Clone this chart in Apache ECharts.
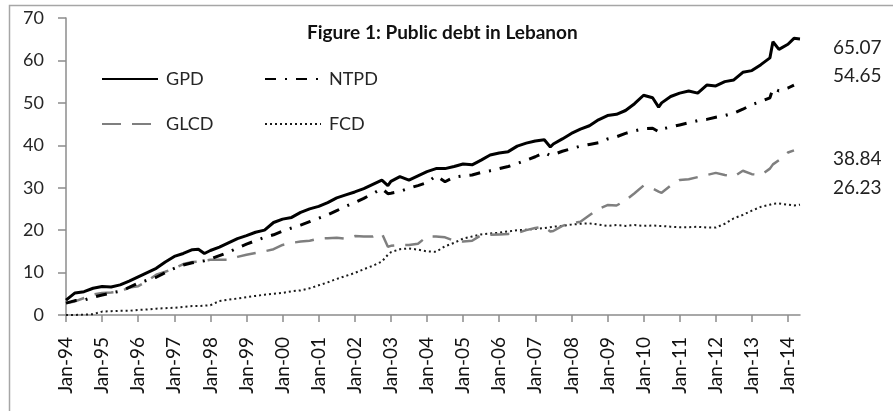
<!DOCTYPE html>
<html lang="en">
<head>
    <meta charset="UTF-8">
    <title>Public debt in Lebanon</title>
    <script src="https://cdn.jsdelivr.net/npm/echarts@6.0.0/dist/echarts.min.js"></script>
    <style>
        html, body { margin: 0; padding: 0; background: #fff; }
    </style>
</head>
<body>
    <div id="main" style="width: 893px;height:411px;"></div>
    <script type="text/javascript">
        // months since Jan-94 at which the lines were read
        var months = [0,3,6,9,12,15,18,21,24,27,30,33,36,39,42,44,46,48,51,54,57,60,63,66,69,72,75,78,81,84,87,90,93,96,99,102,105,107,
            108,111,114,117,120,123,126,129,132,135,138,141,144,147,150,153,156,159,161,162,165,168,171,174,177,180,183,186,189,192,195,197,
            198,201,204,207,210,213,216,219,222,225,228,231,234,235,237,240,242,244];

        var gpd = [3.5,5.2,5.5,6.3,6.7,6.6,7.1,8.0,9.0,10.0,11.0,12.5,13.8,14.5,15.4,15.5,14.5,15.2,16.0,17.0,18.0,18.7,19.5,20.0,21.8,22.6,23.0,24.2,25.0,25.6,26.5,27.6,28.3,29.0,29.8,30.8,31.8,30.5,
            31.5,32.6,31.8,32.8,33.8,34.5,34.5,35.0,35.6,35.4,36.5,37.7,38.2,38.5,39.8,40.5,41.0,41.3,39.6,40.3,41.5,42.8,43.8,44.6,46.0,47.0,47.3,48.2,49.8,51.8,51.2,49.0,
            50.0,51.5,52.3,52.8,52.3,54.2,54.0,55.0,55.4,57.2,57.6,59.0,60.6,64.4,62.6,63.8,65.2,65.07];

        var ntpd = [2.8,3.4,3.5,4.2,4.7,5.2,5.6,6.5,7.5,8.2,8.9,10.0,11.0,11.8,12.3,12.6,12.8,13.2,14.0,14.8,15.8,16.7,17.5,18.3,18.9,19.8,20.5,21.2,22.0,22.8,23.6,24.6,25.6,26.5,27.5,28.6,29.8,28.6,
            28.7,29.1,29.9,30.5,31.2,32.8,31.4,32.5,32.8,33.0,33.6,34.0,34.5,35.0,35.7,36.5,37.3,38.3,37.6,37.8,38.6,39.2,39.8,40.2,40.6,41.5,42.0,42.8,43.4,43.9,44.0,43.2,
            43.8,44.3,44.8,45.3,45.8,46.1,46.6,47.0,47.6,48.5,49.6,50.3,51.2,53.4,52.8,53.5,54.2,null];

        var glcd = [2.8,3.2,4.0,4.8,5.2,5.3,5.5,6.5,6.8,8.0,9.5,10.2,11.0,12.0,12.5,12.6,12.8,13.0,13.0,13.0,13.7,14.2,14.6,15.0,15.5,16.5,17.0,17.3,17.5,18.0,18.1,18.2,18.0,18.6,18.5,18.5,19.2,16.1,
            16.3,16.5,16.5,16.8,18.5,18.5,18.3,17.5,17.3,17.5,18.8,18.9,19.0,19.1,19.3,20.0,20.5,20.8,19.7,19.8,21.0,21.6,22.0,23.5,25.0,25.9,25.8,27.0,28.7,30.5,29.8,29.1,
            28.8,30.5,31.8,32.0,32.5,33.0,33.5,33.0,32.6,34.0,33.2,33.0,34.5,35.5,36.5,38.3,38.8,null];

        var fcd = [0.0,0.0,0.1,0.2,0.8,0.9,1.0,1.0,1.2,1.3,1.5,1.6,1.7,1.9,2.1,2.1,2.2,2.3,3.3,3.6,3.9,4.2,4.5,4.8,5.0,5.2,5.6,5.8,6.3,7.0,7.7,8.5,9.2,9.9,10.8,11.6,12.6,14.2,
            14.8,15.5,15.7,15.4,15.0,14.9,16.2,17.0,18.0,18.5,19.0,19.2,19.4,19.7,20.0,20.1,20.3,20.5,20.7,20.8,21.0,21.3,21.5,21.6,21.3,21.0,21.2,21.0,21.2,21.0,21.1,21.0,
            21.0,20.8,20.7,20.7,20.8,20.6,20.6,21.5,22.8,23.6,24.6,25.5,26.0,26.2,26.3,26.0,25.8,26.0];

        var tickLabels = ['Jan-94','Jan-95','Jan-96','Jan-97','Jan-98','Jan-99','Jan-00','Jan-01','Jan-02','Jan-03','Jan-04',
            'Jan-05','Jan-06','Jan-07','Jan-08','Jan-09','Jan-10','Jan-11','Jan-12','Jan-13','Jan-14'];
        var tickMonths = tickLabels.map(function (t, i) { return i * 12; });

        var endLabels = ['65.07', '54.65', '38.84', '26.23'];

        function pairs(vals) {
            var out = [];
            for (var i = 0; i < months.length; i++) {
                if (vals[i] != null) out.push([months[i], vals[i]]);
            }
            return out;
        }

        var font = 'Lato, "Open Sans", sans-serif';
        var myChart = echarts.init(document.getElementById('main'));

        var legendBase = {
            itemWidth: 56,
            itemHeight: 14,
            padding: 0,
            selectedMode: false,
            itemStyle: { color: 'rgba(0,0,0,0)', borderWidth: 0, opacity: 0 },
            textStyle: { fontFamily: font, fontSize: 18, color: '#262626', padding: [0, 0, 0, 3] }
        };

        var option = {
            backgroundColor: '#fff',
            animation: false,
            title: {
                text: 'Figure 1: Public debt in Lebanon',
                left: 302,
                top: 18,
                textStyle: { fontFamily: font, fontSize: 19, fontWeight: 'bold', color: '#111' }
            },
            legend: [
                Object.assign({ data: ['GPD'], left: 101, top: 70 }, legendBase),
                Object.assign({ data: ['NTPD'], left: 264, top: 70 }, legendBase),
                Object.assign({ data: ['GLCD'], left: 101, top: 115 }, legendBase),
                Object.assign({ data: ['FCD'], left: 264, top: 115 }, legendBase)
            ],
            grid: { left: 66, right: 93, top: 18, bottom: 96 },
            xAxis: {
                type: 'value',
                min: 0,
                max: 244,
                splitLine: { show: false },
                axisLine: { lineStyle: { color: '#8c8c8c', width: 1.5 } },
                axisTick: { customValues: tickMonths, length: 7, lineStyle: { color: '#8c8c8c', width: 1.5 } },
                axisLabel: {
                    customValues: tickMonths,
                    rotate: 90,
                    margin: 22,
                    fontFamily: font,
                    fontSize: 19,
                    color: '#111',
                    formatter: function (v) { return tickLabels[Math.round(v / 12)]; }
                }
            },
            yAxis: {
                type: 'value',
                min: 0,
                max: 70,
                interval: 10,
                splitLine: { show: false },
                axisLine: { show: true, lineStyle: { color: '#8c8c8c', width: 1.5 } },
                axisTick: { show: true, length: 8, lineStyle: { color: '#8c8c8c', width: 1.5 } },
                axisLabel: { margin: 22, fontFamily: font, fontSize: 18, color: '#262626' }
            },
            graphic: [
                {
                    type: 'rect',
                    silent: true,
                    shape: { x: 9.5, y: 5.5, width: 920, height: 440 },
                    style: { fill: 'none', stroke: '#a6a6a6', lineWidth: 1.5 }
                },
                { type: 'text', left: 833, top: 38, style: { text: endLabels[0], font: '19px ' + font, fill: '#222' } },
                { type: 'text', left: 833, top: 66, style: { text: endLabels[1], font: '19px ' + font, fill: '#222' } },
                { type: 'text', left: 833, top: 149, style: { text: endLabels[2], font: '19px ' + font, fill: '#222' } },
                { type: 'text', left: 833, top: 178, style: { text: endLabels[3], font: '19px ' + font, fill: '#222' } }
            ],
            series: [
                {
                    name: 'FCD', type: 'line', symbol: 'none', z: 2,
                    data: pairs(fcd),
                    itemStyle: { color: '#1a1a1a' },
                    lineStyle: { color: '#1a1a1a', width: 2, type: [2, 3] }
                },
                {
                    name: 'GLCD', type: 'line', symbol: 'none', z: 3,
                    data: pairs(glcd),
                    itemStyle: { color: '#7f7f7f' },
                    lineStyle: { color: '#7f7f7f', width: 2.5, type: [19, 11] }
                },
                {
                    name: 'NTPD', type: 'line', symbol: 'none', z: 4,
                    data: pairs(ntpd),
                    itemStyle: { color: '#000' },
                    lineStyle: { color: '#000', width: 3, type: [11, 9, 2, 9] }
                },
                {
                    name: 'GPD', type: 'line', symbol: 'none', z: 5,
                    data: pairs(gpd),
                    itemStyle: { color: '#000' },
                    lineStyle: { color: '#000', width: 3 }
                }
            ]
        };

        myChart.setOption(option);
    </script>
</body>
</html>
